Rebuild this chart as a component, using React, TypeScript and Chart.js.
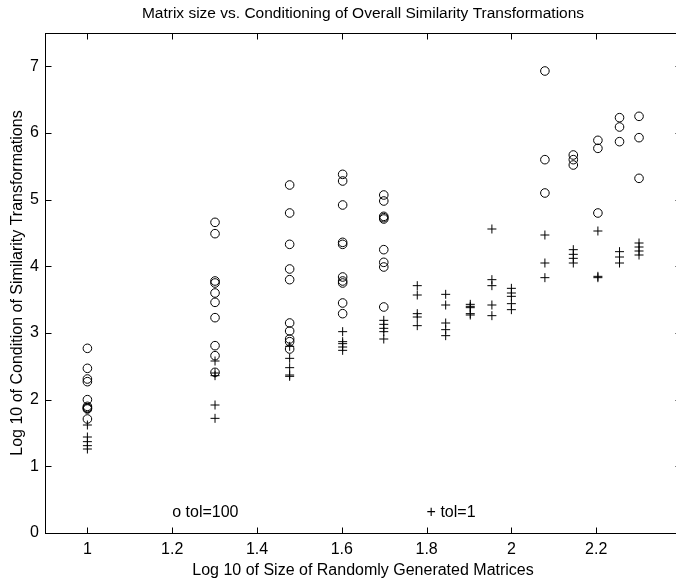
import React, { useEffect, useRef } from 'react';
import { Chart, registerables } from 'chart.js';

Chart.register(...registerables);

const titleText = 'Matrix size vs. Conditioning of Overall Similarity Transformations';
const xLabel = 'Log 10 of Size of Randomly Generated Matrices';
const yLabel = 'Log 10 of Condition of Similarity Transformations';

const xTicks = [1, 1.2, 1.4, 1.6, 1.8, 2, 2.2];
const yTicks = [0, 1, 2, 3, 4, 5, 6, 7];

// tol = 100 (circles)
const circleCols = [1, 1.301, 1.477, 1.602, 1.699, 2.079, 2.146, 2.204, 2.255, 2.301];
const circleVals = [
  [2.77, 2.47, 2.31, 2.27, 2.0, 1.9, 1.88, 1.87, 1.86, 1.71],
  [4.66, 4.49, 3.78, 3.75, 3.6, 3.46, 3.23, 2.81, 2.66, 2.41],
  [5.22, 4.8, 4.33, 3.96, 3.8, 3.15, 3.03, 2.91, 2.87, 2.76],
  [5.38, 5.28, 4.92, 4.36, 4.33, 3.84, 3.78, 3.75, 3.45, 3.29],
  [5.07, 4.98, 4.75, 4.73, 4.71, 4.25, 4.06, 3.99, 3.39],
  [6.93, 5.6, 5.1],
  [5.67, 5.6, 5.52],
  [5.89, 5.77, 4.8],
  [6.23, 6.09, 5.87],
  [6.25, 5.93, 5.32],
];

// tol = 1 (plus signs)
const plusCols = [1, 1.301, 1.477, 1.602, 1.699, 1.778, 1.845, 1.903, 1.954, 2.0, 2.079, 2.146, 2.204, 2.255, 2.301];
const plusVals = [
  [1.62, 1.44, 1.37, 1.31, 1.26],
  [2.58, 2.4, 2.36, 1.92, 1.72],
  [2.8, 2.62, 2.48, 2.37, 2.35],
  [3.02, 2.87, 2.84, 2.79, 2.74],
  [3.19, 3.13, 3.07, 3.02, 2.91],
  [3.71, 3.57, 3.29, 3.24, 3.11],
  [3.58, 3.42, 3.15, 3.05, 2.96],
  [3.43, 3.4, 3.38, 3.29, 3.27],
  [4.56, 3.8, 3.71, 3.42, 3.26],
  [3.67, 3.6, 3.55, 3.44, 3.35],
  [4.47, 4.05, 3.83],
  [4.25, 4.18, 4.12, 4.05],
  [4.53, 3.85, 3.83],
  [4.22, 4.14, 4.05],
  [4.35, 4.29, 4.23, 4.17],
];

const noteX = [1.2, 1.8];
const noteY = [0.3, 0.3];
const noteText = ['o tol=100', '+ tol=1'];

const FONT = '"Liberation Sans", Arial, Helvetica, sans-serif';

function toPoints(cols: number[], vals: number[][]) {
  const pts: { x: number; y: number }[] = [];
  cols.forEach((c, i) => vals[i].forEach((v) => pts.push({ x: c, y: v })));
  return pts;
}

const boxPlugin = {
  id: 'matlabBox',
  afterDatasetsDraw(chart: any) {
    const { ctx, chartArea: a, scales } = chart;
    ctx.save();
    ctx.strokeStyle = '#000';
    ctx.lineWidth = 1;
    const L = Math.round(a.left) + 0.5;
    const R = Math.round(a.right) + 0.5;
    const T = Math.round(a.top) + 0.5;
    const B = Math.round(a.bottom) + 0.5;
    ctx.strokeRect(L, T, R - L, B - T);
    const tl = 6;
    ctx.beginPath();
    for (const t of scales.x.ticks) {
      const px = Math.round(scales.x.getPixelForValue(t.value)) + 0.5;
      ctx.moveTo(px, B);
      ctx.lineTo(px, B - tl);
      ctx.moveTo(px, T);
      ctx.lineTo(px, T + tl);
    }
    for (const t of scales.y.ticks) {
      const py = Math.round(scales.y.getPixelForValue(t.value)) + 0.5;
      ctx.moveTo(L, py);
      ctx.lineTo(L + tl, py);
      ctx.moveTo(R, py);
      ctx.lineTo(R - tl, py);
    }
    ctx.stroke();
    ctx.fillStyle = '#000';
    ctx.font = '16px ' + FONT;
    ctx.textAlign = 'left';
    ctx.textBaseline = 'middle';
    noteText.forEach((txt, i) => {
      ctx.fillText(txt, scales.x.getPixelForValue(noteX[i]), scales.y.getPixelForValue(noteY[i]));
    });
    ctx.restore();
  },
};

export default function App() {
  const ref = useRef<HTMLCanvasElement | null>(null);

  useEffect(() => {
    if (!ref.current) return;
    Chart.defaults.font.family = FONT;
    const chart = new Chart(ref.current, {
      type: 'scatter',
      data: {
        datasets: [
          {
            label: 'tol=100',
            data: toPoints(circleCols, circleVals),
            pointStyle: 'circle',
            pointRadius: 4.3,
            borderColor: '#000',
            backgroundColor: 'rgba(0,0,0,0)',
            pointBorderColor: '#000',
            pointBackgroundColor: 'rgba(0,0,0,0)',
            pointBorderWidth: 1,
            borderWidth: 1,
          },
          {
            label: 'tol=1',
            data: toPoints(plusCols, plusVals),
            pointStyle: 'cross',
            pointRadius: 4.5,
            borderColor: '#000',
            backgroundColor: '#000',
            pointBorderColor: '#000',
            pointBorderWidth: 1,
            borderWidth: 1,
          },
        ],
      },
      options: {
        responsive: false,
        animation: false,
        devicePixelRatio: 1,
        layout: { padding: { left: 0, right: 9, top: 0, bottom: 0 } },
        plugins: {
          legend: { display: false },
          tooltip: { enabled: false },
          title: {
            display: true,
            fullSize: false,
            text: titleText,
            color: '#000',
            font: { size: 15.5, weight: 'normal', family: FONT },
            padding: { top: 4, bottom: 10.4 },
          },
        },
        scales: {
          x: {
            type: 'linear',
            min: 0.9,
            max: 2.4,
            afterBuildTicks: (s: any) => {
              s.ticks = xTicks.map((v) => ({ value: v }));
            },
            afterFit: (s: any) => {
              s.height = 53;
            },
            grid: { display: false, drawTicks: false, tickLength: 0 },
            border: { display: false },
            ticks: {
              color: '#000',
              font: { size: 16, family: FONT },
              padding: 7,
              maxRotation: 0,
              autoSkip: false,
              callback: (v: any) => String(v),
            },
            title: {
              display: true,
              text: xLabel,
              color: '#000',
              font: { size: 16, family: FONT },
              padding: { top: 0, bottom: 6 },
            },
          },
          y: {
            type: 'linear',
            min: 0,
            max: 7.5,
            afterBuildTicks: (s: any) => {
              s.ticks = yTicks.map((v) => ({ value: v }));
            },
            afterFit: (s: any) => {
              s.width = 45;
            },
            grid: { display: false, drawTicks: false, tickLength: 0 },
            border: { display: false },
            ticks: {
              color: '#000',
              font: { size: 16, family: FONT },
              padding: 6,
              autoSkip: false,
              callback: (v: any) => String(v),
            },
            title: {
              display: true,
              text: yLabel,
              color: '#000',
              font: { size: 16, family: FONT },
              padding: { top: 8, bottom: 0 },
            },
          },
        },
      },
      plugins: [boxPlugin],
    } as any);
    return () => chart.destroy();
  }, []);

  return (
    <div
      style={{
        position: 'fixed',
        left: 0,
        top: 0,
        width: 676,
        height: 586,
        overflow: 'hidden',
        background: '#fff',
      }}
    >
      <canvas ref={ref} width={690} height={586} style={{ display: 'block' }} />
    </div>
  );
}
